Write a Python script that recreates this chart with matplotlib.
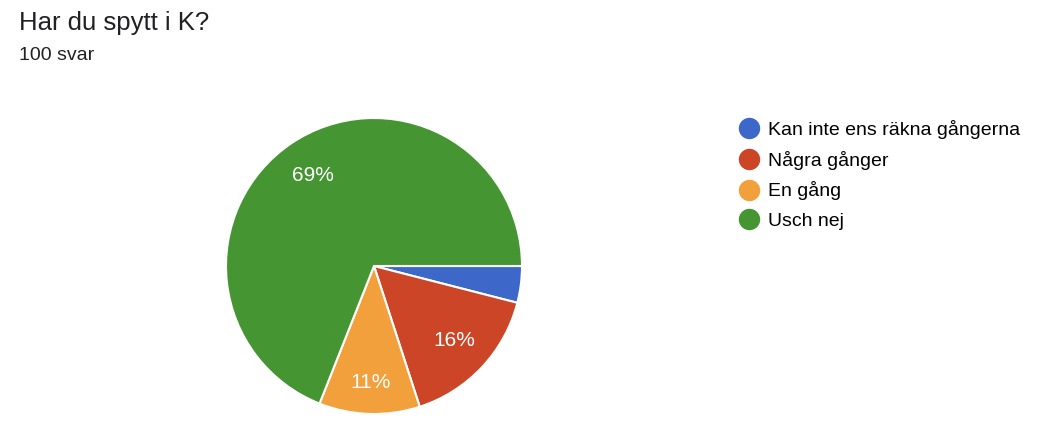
import numpy as np
import matplotlib.pyplot as plt
from matplotlib.lines import Line2D

plt.rcParams['font.family'] = ['Liberation Sans', 'DejaVu Sans']

# svar på frågan
labels = ["Kan inte ens räkna gångerna", "Några gånger", "En gång", "Usch nej"]
percent = [4, 16, 11, 69]
colors = ["#3d67c9", "#cc4527", "#f2a03c", "#459633"]

fig = plt.figure(figsize=(10.43, 4.28), dpi=100)

fig.text(19 / 1043, 1 - 23 / 428, "Har du spytt i K?", fontsize=18.5, color="#202124", va="center", ha="left")
fig.text(19 / 1043, 1 - 56 / 428, "100 svar", fontsize=14, color="#202124", va="center", ha="left")

# pajen
ax = fig.add_axes([226 / 1043, 14 / 428, 296 / 1043, 296 / 428])
wedges, texts, autotexts = ax.pie(
    percent, colors=colors, startangle=0, counterclock=False, radius=1,
    autopct=lambda p: f"{p:.0f}%" if p >= 5 else "", pctdistance=0.74,
    wedgeprops=dict(edgecolor="white", linewidth=1.5),
    textprops=dict(color="white", fontsize=15),
)
# etiketten för den smala biten sitter längre ut
w = wedges[2]
mid = np.deg2rad((w.theta1 + w.theta2) / 2)
autotexts[2].set_position((0.79 * np.cos(mid), 0.79 * np.sin(mid)))

ax.set_xlim(-1, 1)
ax.set_ylim(-1, 1)
ax.set_aspect("equal")
ax.axis("off")

handles = [Line2D([], [], marker="o", linestyle="", markersize=14.4, markerfacecolor=c, markeredgecolor=c) for c in colors]
fig.legend(handles, labels, loc="upper left", bbox_to_anchor=(739 / 1043, 1 - 120 / 428),
           frameon=False, fontsize=14, labelspacing=0.6, handletextpad=0.48,
           handlelength=1.0, borderpad=0, borderaxespad=0)

plt.savefig("out.png", dpi=100)
